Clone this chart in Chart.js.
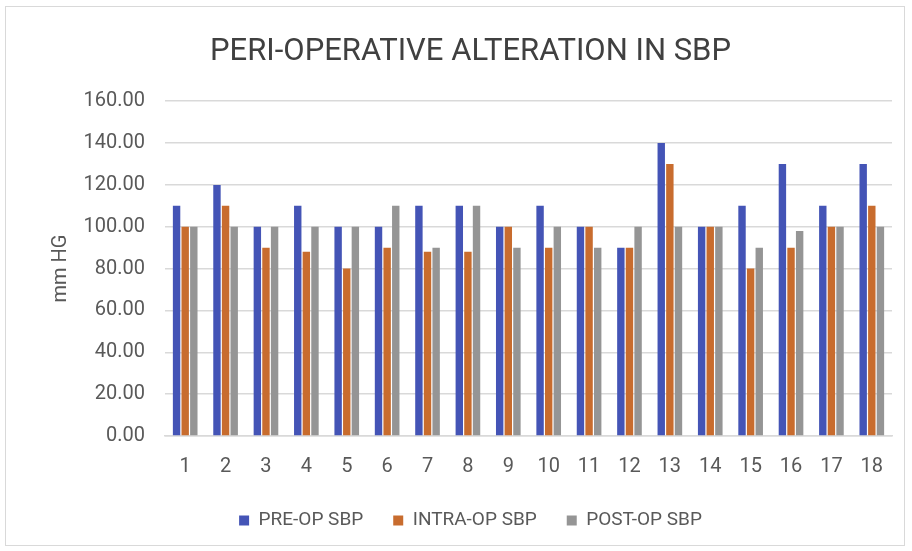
<!DOCTYPE html>
<html>
<head>
<meta charset="utf-8">
<script src="https://cdn.jsdelivr.net/npm/chart.js@4"></script>
<style>
  html, body { margin: 0; padding: 0; background: #fff; }
  #wrap { position: absolute; left: 5px; top: 6px; width: 900px; height: 540px; border: 1px solid #d9d9d9; box-sizing: border-box; }
</style>
</head>
<body>
<div id="wrap"><canvas id="grafikSBP" width="898" height="538"></canvas></div>
<script>
// data dibaca dari grafik asli
const pasien = ['1','2','3','4','5','6','7','8','9','10','11','12','13','14','15','16','17','18'];
const preOp   = [110, 120, 100, 110, 100, 100, 110, 110, 100, 110, 100, 90, 140, 100, 110, 130, 110, 130];
const intraOp = [100, 110, 90, 88, 80, 90, 88, 88, 100, 90, 100, 90, 130, 100, 80, 90, 100, 110];
const postOp  = [100, 100, 100, 100, 100, 110, 90, 110, 90, 100, 90, 100, 100, 100, 90, 98, 100, 100];

const fontUtama = "'Liberation Sans Narrow', 'Roboto', sans-serif";
const warnaTeks = '#595959';

const ctx = document.getElementById('grafikSBP').getContext('2d');

new Chart(ctx, {
  type: 'bar',
  data: {
    labels: pasien,
    datasets: [
      { label: 'PRE-OP SBP', data: preOp, backgroundColor: '#4454b6' },
      { label: 'INTRA-OP SBP', data: intraOp, backgroundColor: '#c86c2e' },
      { label: 'POST-OP SBP', data: postOp, backgroundColor: '#959595' }
    ]
  },
  options: {
    responsive: false,
    animation: false,
    categoryPercentage: 0.64,
    barPercentage: 0.86,
    layout: { padding: { top: 10, bottom: 5, left: 43, right: 12 } },
    plugins: {
      title: {
        display: true,
        text: 'PERI-OPERATIVE ALTERATION IN SBP',
        color: '#404040',
        font: { family: fontUtama, size: 31, weight: 'normal' },
        padding: { top: 17, bottom: 30 }
      },
      legend: {
        position: 'bottom',
        labels: {
          color: warnaTeks,
          font: { family: fontUtama, size: 19 },
          boxWidth: 10,
          boxHeight: 10,
          padding: 30
        }
      },
      tooltip: { enabled: false }
    },
    scales: {
      x: {
        grid: { display: false, drawTicks: false },
        border: { color: '#d9d9d9', width: 1.5 },
        ticks: { color: warnaTeks, font: { family: fontUtama, size: 20 }, padding: 19, maxRotation: 0 },
        afterFit: (s) => { s.height = 45; }
      },
      y: {
        min: 0,
        max: 160,
        grid: { color: '#d9d9d9', lineWidth: 1.5, drawTicks: false },
        border: { display: false },
        ticks: {
          stepSize: 20,
          color: warnaTeks,
          padding: 20,
          font: { family: fontUtama, size: 20 },
          callback: (v) => v.toFixed(2)
        },
        title: {
          display: true,
          text: 'mm HG',
          color: warnaTeks,
          font: { family: fontUtama, size: 20 },
          padding: { top: 0, bottom: 0 }
        },
        afterFit: (s) => { s.width = 116; }
      }
    }
  }
});
</script>
</body>
</html>
